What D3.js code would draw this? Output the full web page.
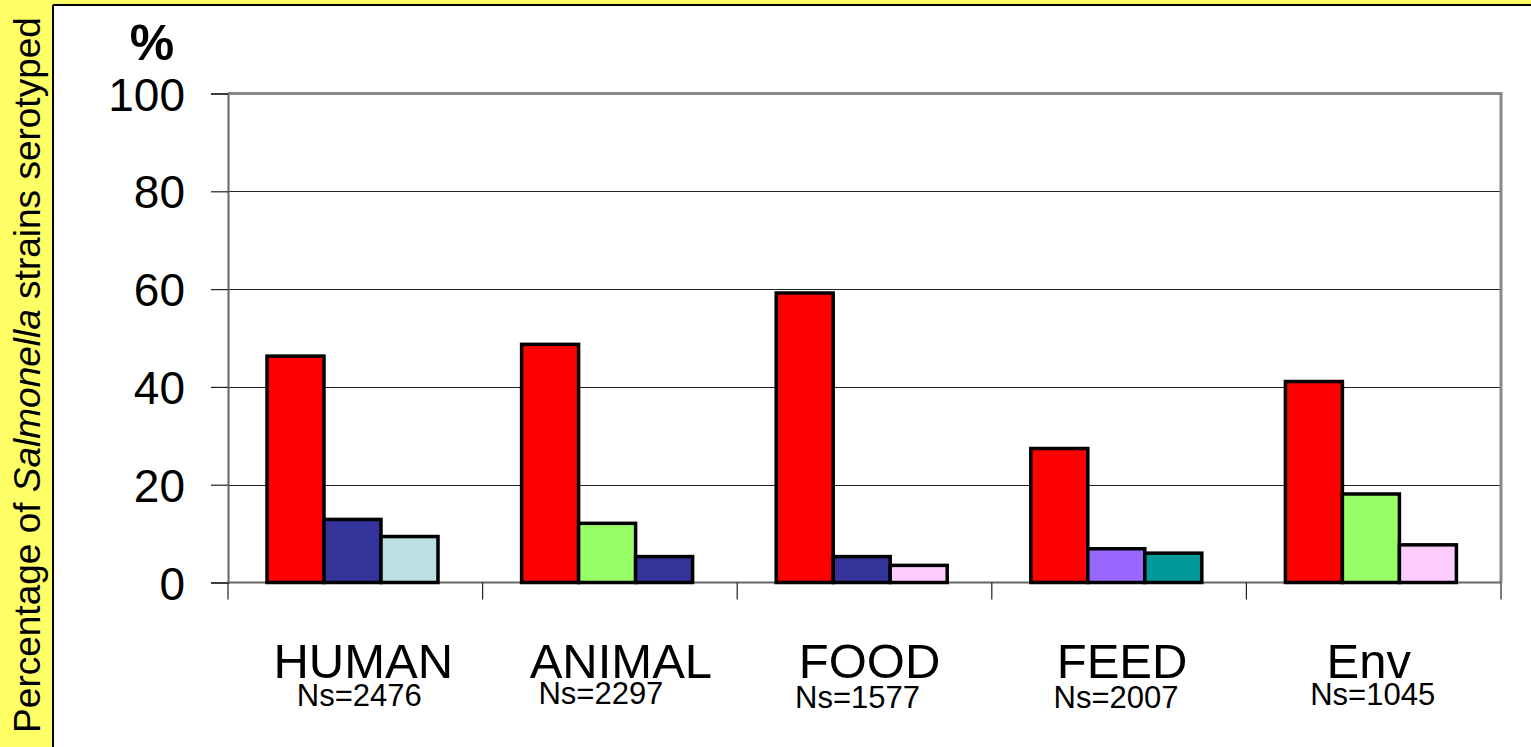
<!DOCTYPE html>
<html>
<head>
<meta charset="utf-8">
<script src="https://cdn.jsdelivr.net/npm/d3@7"></script>
<style>
  html, body { margin: 0; padding: 0; background: #fff; }
  svg { display: block; font-family: Arial, "Liberation Sans", sans-serif; }
</style>
</head>
<body>
<svg id="chart" width="1531" height="747"></svg>
<script>
// ---- data ----
const categories = ["HUMAN", "ANIMAL", "FOOD", "FEED", "Env"];
const sampleSizes = ["Ns=2476", "Ns=2297", "Ns=1577", "Ns=2007", "Ns=1045"];
// serotype keys of the three bars in each category (1st, 2nd, 3rd)
const serotypeKeys = [
  ["S1", "S2", "S3"],
  ["S1", "S4", "S2"],
  ["S1", "S2", "S5"],
  ["S1", "S6", "S7"],
  ["S1", "S4", "S5"]
];
const values = [
  [46.3, 12.9, 9.4],
  [48.7, 12.1, 5.3],
  [59.2, 5.3, 3.5],
  [27.4, 6.9, 6.0],
  [41.1, 18.1, 7.7]
];
const yTicks = [0, 20, 40, 60, 80, 100];
const serotypeDomain = ["S1", "S2", "S3", "S4", "S5", "S6", "S7"];
const palette = ["#FF0000", "#333399", "#BBE0E3", "#99FF66", "#FFCCFF", "#9966FF", "#009999"];

// ---- layout ----
const svg = d3.select("#chart");
const W = 1531, H = 747;
const plot = { left: 228, right: 1501, top: 93.5, bottom: 582.5 };

// backgrounds
svg.append("rect").attr("x", 0).attr("y", 0).attr("width", W).attr("height", H).attr("fill", "#FFFF66");
svg.append("rect").attr("x", 54).attr("y", 6).attr("width", W - 54).attr("height", H - 6).attr("fill", "#fff");
svg.append("line").attr("x1", 53).attr("x2", 53).attr("y1", 5).attr("y2", H).attr("stroke", "#000").attr("stroke-width", 2);
svg.append("line").attr("x1", 53).attr("x2", W).attr("y1", 5).attr("y2", 5).attr("stroke", "#000").attr("stroke-width", 2);

const x = d3.scaleBand().domain(categories).range([plot.left, plot.right]).paddingInner(0).paddingOuter(0);
const y = d3.scaleLinear().domain([0, 100]).range([plot.bottom, plot.top]);
const inner = d3.scaleBand().domain([0, 1, 2]).range([0, 171]);
const color = d3.scaleOrdinal().domain(serotypeDomain).range(palette);
const groupOffset = 39;

// gridlines
svg.append("g").selectAll("line").data(yTicks.filter(t => t > 0 && t < 100)).join("line")
  .attr("x1", plot.left).attr("x2", plot.right)
  .attr("y1", d => Math.round(y(d)) + 0.5).attr("y2", d => Math.round(y(d)) + 0.5)
  .attr("stroke", "#222").attr("stroke-width", 1);

// frame (gray)
svg.append("line").attr("x1", plot.left).attr("x2", plot.right + 1.5).attr("y1", plot.top).attr("y2", plot.top)
  .attr("stroke", "#888").attr("stroke-width", 3);
svg.append("line").attr("x1", plot.right).attr("x2", plot.right).attr("y1", plot.top).attr("y2", plot.bottom)
  .attr("stroke", "#888").attr("stroke-width", 3);

// y axis
const yAxis = d3.axisLeft(y).tickValues(yTicks).tickSize(17).tickPadding(26).tickFormat(d3.format("d"));
const gy = svg.append("g").attr("transform", `translate(${plot.left},0)`).call(yAxis);
gy.select(".domain").attr("stroke", "#666").attr("stroke-width", 2);
gy.selectAll(".tick line").attr("stroke", "#222").attr("stroke-width", 1.2);
gy.selectAll(".tick text").attr("font-size", 46).attr("fill", "#000").attr("font-family", "Arial, 'Liberation Sans', sans-serif")
  .attr("dy", "0.36em");

// x axis (ticks at band boundaries)
const bounds = categories.map(c => x(c)).concat([plot.right]);
svg.append("line").attr("x1", plot.left).attr("x2", plot.right).attr("y1", plot.bottom).attr("y2", plot.bottom)
  .attr("stroke", "#666").attr("stroke-width", 2);
svg.append("g").selectAll("line").data(bounds).join("line")
  .attr("x1", d => d).attr("x2", d => d).attr("y1", plot.bottom).attr("y2", plot.bottom + 17)
  .attr("stroke", "#222").attr("stroke-width", 1.2);

// bars
const groups = svg.append("g").selectAll("g").data(categories).join("g")
  .attr("transform", c => `translate(${x(c) + groupOffset},0)`);
groups.selectAll("rect").data((c, i) => values[i].map((v, j) => ({ v, key: serotypeKeys[i][j], j }))).join("rect")
  .attr("x", d => inner(d.j))
  .attr("width", inner.bandwidth())
  .attr("y", d => y(d.v))
  .attr("height", d => y(0) - y(d.v))
  .attr("fill", d => color(d.key))
  .attr("stroke", "#000").attr("stroke-width", 3.5);

// category labels (two-line: name + sample size)
const labelDx = [8, 11, 5, 3, -5];
const nsDx = [4, -9, -7, -3, -1];
const nsY = [706, 704, 708, 708, 705];
const lbl = svg.append("g").selectAll("text").data(categories).join("text")
  .attr("text-anchor", "middle").attr("fill", "#000");
lbl.append("tspan")
  .attr("x", (c, i) => x(c) + x.bandwidth() / 2 + labelDx[i])
  .attr("y", 678).attr("font-size", 49)
  .text(c => c);
lbl.append("tspan")
  .attr("x", (c, i) => x(c) + x.bandwidth() / 2 + nsDx[i])
  .attr("y", (c, i) => nsY[i]).attr("font-size", 31)
  .text((c, i) => sampleSizes[i]);

// % unit
svg.append("text").attr("x", 152).attr("y", 60).attr("text-anchor", "middle")
  .attr("font-size", 50).attr("font-weight", "bold").text("%");

// y title
const yt = svg.append("text").attr("transform", "translate(40,375) rotate(-90)")
  .attr("text-anchor", "middle").attr("font-size", 37).attr("fill", "#000");
yt.append("tspan").text("Percentage of ");
yt.append("tspan").attr("font-style", "italic").text("Salmonella");
yt.append("tspan").text(" strains serotyped");
</script>
</body>
</html>
